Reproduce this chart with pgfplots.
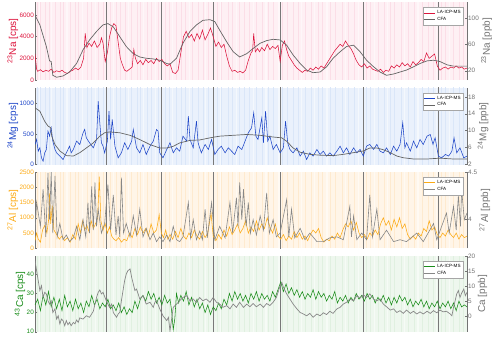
\documentclass[border=0pt]{standalone}
\usepackage{fontspec}
\setmainfont{Liberation Sans}
\usepackage{pgfplots}
\usepackage{pgfplotstable}
\pgfplotsset{compat=1.18}

\definecolor{naC}{RGB}{220,20,60}
\definecolor{naBg}{RGB}{254,240,244}
\definecolor{naSt}{RGB}{251,222,231}
\definecolor{mgC}{RGB}{30,70,200}
\definecolor{mgBg}{RGB}{234,241,252}
\definecolor{mgSt}{RGB}{218,230,248}
\definecolor{alC}{RGB}{252,170,20}
\definecolor{alBg}{RGB}{255,245,232}
\definecolor{alSt}{RGB}{254,234,207}
\definecolor{caC}{RGB}{25,140,25}
\definecolor{caBg}{RGB}{238,247,238}
\definecolor{caSt}{RGB}{224,240,224}
\definecolor{cfaC}{RGB}{100,100,100}
\definecolor{cfaL}{RGB}{135,135,135}
\definecolor{axC}{RGB}{115,115,115}
\definecolor{vlC}{RGB}{120,120,120}

% positions of the pale raw-signal streaks behind the traces (top of each panel)
\pgfplotstableread{
x na mg al ca
83.204 7300 1300 2600 50
83.211 7300 1300 2600 50
83.219 7300 1300 2600 50
83.226 7300 1300 2600 50
83.238 7300 1300 2600 50
83.247 7300 1300 2600 50
83.253 7300 1300 2600 50
83.266 7300 1300 2600 50
83.274 7300 1300 2600 50
83.281 7300 1300 2600 50
83.297 7300 1300 2600 50
83.305 7300 1300 2600 50
83.318 7300 1300 2600 50
83.327 7300 1300 2600 50
83.339 7300 1300 2600 50
83.351 7300 1300 2600 50
83.358 7300 1300 2600 50
83.367 7300 1300 2600 50
83.378 7300 1300 2600 50
83.389 7300 1300 2600 50
83.396 7300 1300 2600 50
83.409 7300 1300 2600 50
83.416 7300 1300 2600 50
83.428 7300 1300 2600 50
83.441 7300 1300 2600 50
83.449 7300 1300 2600 50
83.462 7300 1300 2600 50
83.471 7300 1300 2600 50
83.478 7300 1300 2600 50
83.492 7300 1300 2600 50
83.503 7300 1300 2600 50
83.512 7300 1300 2600 50
83.521 7300 1300 2600 50
83.537 7300 1300 2600 50
83.546 7300 1300 2600 50
83.558 7300 1300 2600 50
83.566 7300 1300 2600 50
83.579 7300 1300 2600 50
83.588 7300 1300 2600 50
83.597 7300 1300 2600 50
83.611 7300 1300 2600 50
83.622 7300 1300 2600 50
83.633 7300 1300 2600 50
83.641 7300 1300 2600 50
83.659 7300 1300 2600 50
83.668 7300 1300 2600 50
83.679 7300 1300 2600 50
83.688 7300 1300 2600 50
83.701 7300 1300 2600 50
83.712 7300 1300 2600 50
83.724 7300 1300 2600 50
83.733 7300 1300 2600 50
83.748 7300 1300 2600 50
83.757 7300 1300 2600 50
83.769 7300 1300 2600 50
83.781 7300 1300 2600 50
83.792 7300 1300 2600 50
83.813 7300 1300 2600 50
83.822 7300 1300 2600 50
83.836 7300 1300 2600 50
83.847 7300 1300 2600 50
83.858 7300 1300 2600 50
83.866 7300 1300 2600 50
83.879 7300 1300 2600 50
83.891 7300 1300 2600 50
83.902 7300 1300 2600 50
83.917 7300 1300 2600 50
83.928 7300 1300 2600 50
83.937 7300 1300 2600 50
83.952 7300 1300 2600 50
83.961 7300 1300 2600 50
83.974 7300 1300 2600 50
83.986 7300 1300 2600 50
83.994 7300 1300 2600 50
}\stripes
\pgfplotstableread{
x na mg al ca
83.208 7300 1300 2600 50
83.231 7300 1300 2600 50
83.259 7300 1300 2600 50
83.288 7300 1300 2600 50
83.312 7300 1300 2600 50
83.345 7300 1300 2600 50
83.373 7300 1300 2600 50
83.401 7300 1300 2600 50
83.423 7300 1300 2600 50
83.455 7300 1300 2600 50
83.486 7300 1300 2600 50
83.516 7300 1300 2600 50
83.543 7300 1300 2600 50
83.573 7300 1300 2600 50
83.604 7300 1300 2600 50
83.628 7300 1300 2600 50
83.652 7300 1300 2600 50
83.694 7300 1300 2600 50
83.718 7300 1300 2600 50
83.741 7300 1300 2600 50
83.775 7300 1300 2600 50
83.799 7300 1300 2600 50
83.829 7300 1300 2600 50
83.853 7300 1300 2600 50
83.884 7300 1300 2600 50
83.909 7300 1300 2600 50
83.944 7300 1300 2600 50
83.968 7300 1300 2600 50
}\gaps

\pgfplotsset{
  panel/.style={width=432bp, scale only axis, xmin=83.2, xmax=84, clip=true,
    /pgf/number format/assume math mode=true, /pgf/number format/1000 sep={},
    scaled ticks=false, tick align=inside, major tick length=2bp,
    yticklabel style={font=\fontsize{6.4}{7}\selectfont, inner sep=1pt},
    xticklabel style={font=\fontsize{7.6}{8}\selectfont, color=black!75},
    label style={font=\fontsize{7.8}{8}\selectfont},
    ylabel near ticks, tick style={draw=axC, line width=0.4pt},
    axis line style={draw=axC, line width=0.4pt}},
  leftax/.style={panel, axis y line*=left, axis x line=none, ylabel shift=-3bp},
  rightax/.style={panel, axis y line*=right, axis x line=none,
    yticklabel style={color=axC}, ylabel style={color=axC}, ylabel shift=-2bp,
    legend style={at={(rel axis cs:0.992,0.93)}, anchor=north east,
      font=\fontsize{4.6}{5}\selectfont, draw=black!35, fill=white,
      inner sep=0.8pt, row sep=-1.8pt, cells={anchor=west}},
    legend image code/.code={\draw[##1] (0bp,0bp) -- (11bp,0bp);}},
  laline/.style={line width=0.55pt},
  cfaline/.style={line width=0.7pt, color=cfaC},
  vline/.style={color=vlC, line width=0.5pt, unbounded coords=jump, forget plot},
  streak/.style={ycomb, no marks, forget plot, line width=0.9bp},
  gap/.style={ycomb, no marks, forget plot, line width=1.3bp, draw=white, opacity=0.5},
}

\begin{document}
\begin{tikzpicture}
\path[use as bounding box] (-35bp,2bp) rectangle (465bp,-356bp);

% ---------------- Na ----------------
\begin{axis}[leftax, at={(0,0)}, anchor=north west, height=78bp,
  ymin=0, ymax=7200, ytick={0,2000,4000,6000},
  ylabel={\textsuperscript{23}Na [cps]}, ylabel style={color=naC}, yticklabel style={color=naC},
  axis background/.style={fill=naBg}]
\addplot[streak, draw=naSt] table[x=x, y=na] {\stripes};
\addplot[gap] table[x=x, y=na] {\gaps};
\addplot[vline] coordinates {(83.332,-100) (83.332,7300) (83.332,nan) (83.433,-100) (83.433,7300) (83.433,nan)
  (83.530,-100) (83.530,7300) (83.530,nan) (83.655,-100) (83.655,7300) (83.655,nan)
  (83.807,-100) (83.807,7300) (83.807,nan) (83.946,-100) (83.946,7300)};
\addplot[laline, naC] coordinates {(83.200,2400)(83.203,1000)(83.205,800)(83.210,950)(83.215,750)(83.220,900)(83.225,800)(83.230,1000)(83.235,700)(83.240,850)(83.245,750)(83.250,900)(83.255,700)(83.260,600)(83.265,800)(83.270,900)(83.275,1100)(83.280,950)(83.285,1200)(83.290,2000)(83.293,4300)(83.296,3000)(83.300,3400)(83.305,3100)(83.310,3600)(83.315,3000)(83.320,3300)(83.323,3900)(83.326,3400)(83.330,1700)(83.334,2500)(83.338,4000)(83.342,4800)(83.346,5200)(83.350,5000)(83.354,3500)(83.358,2000)(83.362,1400)(83.366,900)(83.370,800)(83.375,1000)(83.380,1200)(83.383,2800)(83.386,2000)(83.390,1500)(83.395,1800)(83.400,1400)(83.405,1900)(83.410,1600)(83.415,1800)(83.420,1500)(83.425,2000)(83.430,1700)(83.435,1900)(83.440,1500)(83.445,1300)(83.450,1500)(83.455,700)(83.460,600)(83.465,900)(83.470,2500)(83.475,4000)(83.480,4500)(83.485,3900)(83.490,4200)(83.495,3600)(83.500,4300)(83.505,3800)(83.510,4600)(83.515,3700)(83.520,4200)(83.525,4800)(83.530,4000)(83.535,3100)(83.540,3500)(83.545,3000)(83.550,3300)(83.555,2200)(83.560,1300)(83.565,800)(83.570,900)(83.575,700)(83.580,800)(83.585,650)(83.590,900)(83.595,1800)(83.600,2500)(83.603,2700)(83.605,4300)(83.608,2600)(83.612,2900)(83.616,2600)(83.620,3000)(83.625,2700)(83.630,3300)(83.635,2800)(83.640,3100)(83.645,2900)(83.650,3200)(83.654,1700)(83.658,3200)(83.662,3600)(83.666,2800)(83.670,2200)(83.675,1800)(83.680,1400)(83.685,1100)(83.690,900)(83.695,700)(83.700,900)(83.705,800)(83.710,1100)(83.715,900)(83.720,1200)(83.725,1000)(83.730,1300)(83.735,1100)(83.740,1500)(83.745,1900)(83.750,2300)(83.755,2700)(83.760,3000)(83.765,3300)(83.770,3100)(83.775,3600)(83.780,3200)(83.785,2900)(83.790,2400)(83.795,1800)(83.800,1400)(83.805,1200)(83.810,1500)(83.815,1100)(83.820,1300)(83.825,1000)(83.830,900)(83.835,800)(83.840,1000)(83.845,700)(83.850,900)(83.855,800)(83.860,1300)(83.865,1100)(83.870,1400)(83.875,1200)(83.880,1600)(83.885,1300)(83.890,1500)(83.895,1200)(83.900,1700)(83.905,1400)(83.910,1600)(83.915,1900)(83.920,1700)(83.925,2500)(83.930,2000)(83.935,2200)(83.940,2400)(83.945,1300)(83.950,900)(83.955,1100)(83.960,1200)(83.965,1000)(83.970,1200)(83.975,1100)(83.980,1300)(83.985,1100)(83.990,1200)(83.995,1000)(84.000,1100)};
\end{axis}
\begin{axis}[rightax, at={(0,0)}, anchor=north west, height=78bp,
  ymin=5.8, ymax=125, ytick={20,60,100}, ylabel={\textsuperscript{23}Na [ppb]}]
\addlegendimage{laline, naC}\addlegendentry{LA-ICP-MS}
\addplot[cfaline] coordinates {(83.200,105)(83.209,90)(83.221,57)(83.227,35)(83.230,34)(83.233,13)(83.240,10)(83.252,12)(83.264,18)(83.277,31)(83.289,52)(83.301,67)(83.314,80)(83.326,90)(83.335,92)(83.345,87)(83.357,72)(83.369,57)(83.382,46)(83.394,41)(83.406,39)(83.419,38)(83.431,36)(83.444,31)(83.450,30)(83.462,39)(83.474,62)(83.487,80)(83.499,90)(83.511,97)(83.524,98)(83.533,95)(83.542,82)(83.555,64)(83.567,49)(83.579,41)(83.592,46)(83.604,54)(83.617,62)(83.629,66)(83.641,68)(83.654,67)(83.666,59)(83.678,44)(83.691,31)(83.703,21)(83.715,17)(83.728,18)(83.740,26)(83.752,39)(83.765,49)(83.777,57)(83.790,59)(83.802,49)(83.814,36)(83.827,26)(83.839,18)(83.851,13)(83.864,15)(83.876,18)(83.888,21)(83.901,26)(83.913,31)(83.926,35)(83.938,36)(83.950,34)(83.963,29)(83.975,27)(84.000,27)};
\addlegendentry{CFA}
\end{axis}

% ---------------- Mg ----------------
\begin{axis}[leftax, at={(0,-85.5bp)}, anchor=north west, height=77bp,
  ymin=0, ymax=1260, ytick={0,500,1000},
  ylabel={\textsuperscript{24}Mg [cps]}, ylabel style={color=mgC}, yticklabel style={color=mgC},
  axis background/.style={fill=mgBg}]
\addplot[streak, draw=mgSt] table[x=x, y=mg] {\stripes};
\addplot[gap] table[x=x, y=mg] {\gaps};
\addplot[vline] coordinates {(83.332,-10) (83.332,1300) (83.332,nan) (83.433,-10) (83.433,1300) (83.433,nan)
  (83.530,-10) (83.530,1300) (83.530,nan) (83.655,-10) (83.655,1300) (83.655,nan)
  (83.807,-10) (83.807,1300) (83.807,nan) (83.946,-10) (83.946,1300)};
\addplot[laline, mgC] coordinates {(83.200,328)(83.203,410)(83.206,218)(83.209,273)(83.212,109)(83.215,55)(83.218,191)(83.221,246)(83.224,546)(83.227,464)(83.230,600)(83.233,382)(83.237,246)(83.240,191)(83.246,137)(83.252,82)(83.258,191)(83.264,300)(83.267,191)(83.271,246)(83.277,382)(83.283,328)(83.289,519)(83.292,573)(83.295,437)(83.301,355)(83.308,273)(83.314,410)(83.317,1037)(83.320,683)(83.323,355)(83.326,300)(83.329,191)(83.334,382)(83.337,874)(83.340,410)(83.343,737)(83.348,300)(83.354,109)(83.360,191)(83.366,355)(83.372,246)(83.379,382)(83.382,573)(83.388,273)(83.394,191)(83.400,328)(83.406,164)(83.413,300)(83.419,382)(83.425,573)(83.428,546)(83.431,191)(83.437,109)(83.444,246)(83.450,355)(83.456,191)(83.462,273)(83.468,218)(83.474,464)(83.481,382)(83.484,792)(83.487,410)(83.493,273)(83.499,710)(83.502,355)(83.508,191)(83.515,328)(83.521,246)(83.527,410)(83.533,164)(83.539,246)(83.545,300)(83.552,191)(83.558,273)(83.564,218)(83.570,164)(83.576,300)(83.583,246)(83.589,382)(83.595,519)(83.601,600)(83.605,846)(83.609,464)(83.613,410)(83.620,764)(83.623,355)(83.627,874)(83.631,382)(83.635,464)(83.641,246)(83.647,328)(83.654,191)(83.660,273)(83.664,710)(83.668,355)(83.672,246)(83.678,191)(83.685,273)(83.691,137)(83.697,218)(83.703,82)(83.709,191)(83.715,137)(83.722,246)(83.728,164)(83.734,218)(83.740,137)(83.746,191)(83.752,137)(83.759,218)(83.765,300)(83.771,191)(83.777,273)(83.783,164)(83.790,273)(83.796,191)(83.802,246)(83.808,137)(83.814,300)(83.820,328)(83.827,246)(83.833,328)(83.839,218)(83.845,191)(83.851,273)(83.858,164)(83.864,300)(83.870,218)(83.876,328)(83.881,683)(83.885,273)(83.888,355)(83.895,218)(83.901,382)(83.907,273)(83.913,410)(83.919,328)(83.926,464)(83.932,491)(83.937,328)(83.941,437)(83.947,137)(83.953,109)(83.960,164)(83.966,137)(83.972,218)(83.976,437)(83.981,191)(83.987,273)(83.994,109)(84.000,137)};
\end{axis}
\begin{axis}[rightax, at={(0,-85.5bp)}, anchor=north west, height=77bp,
  ymin=2, ymax=20.2, ytick={2,6,10,14,18}, ylabel={\textsuperscript{24}Mg [ppb]}]
\addlegendimage{laline, mgC}\addlegendentry{LA-ICP-MS}
\addplot[cfaline] coordinates {(83.200,15.4)(83.209,14.6)(83.218,12.2)(83.224,11.1)(83.229,10.7)(83.231,8.7)(83.237,6.7)(83.246,5.2)(83.258,4.1)(83.271,4.0)(83.283,4.8)(83.295,5.9)(83.308,7.1)(83.320,8.7)(83.329,9.5)(83.338,9.7)(83.357,9.5)(83.376,8.9)(83.394,7.9)(83.413,6.7)(83.431,5.9)(83.444,5.9)(83.456,6.3)(83.468,7.1)(83.487,7.7)(83.505,7.8)(83.524,8.3)(83.542,8.7)(83.567,8.9)(83.592,9.1)(83.617,8.9)(83.641,8.5)(83.657,8.3)(83.666,7.5)(83.678,5.9)(83.691,4.9)(83.709,4.4)(83.728,4.2)(83.752,4.1)(83.771,4.4)(83.790,4.8)(83.808,5.2)(83.820,5.9)(83.833,5.9)(83.845,5.5)(83.858,4.8)(83.870,4.0)(83.882,3.6)(83.901,3.3)(83.926,3.3)(83.950,3.5)(83.975,3.3)(84.000,3.3)};
\addlegendentry{CFA}
\end{axis}

% ---------------- Al ----------------
\begin{axis}[leftax, at={(0,-170bp)}, anchor=north west, height=76.3bp,
  ymin=0, ymax=2500, ytick={0,500,1000,1500,2000,2500},
  ylabel={\textsuperscript{27}Al [cps]}, ylabel style={color=alC}, yticklabel style={color=alC},
  axis background/.style={fill=alBg}]
\addplot[streak, draw=alSt] table[x=x, y=al] {\stripes};
\addplot[gap] table[x=x, y=al] {\gaps};
\addplot[vline] coordinates {(83.332,-10) (83.332,2600) (83.332,nan) (83.433,-10) (83.433,2600) (83.433,nan)
  (83.530,-10) (83.530,2600) (83.530,nan) (83.655,-10) (83.655,2600) (83.655,nan)
  (83.807,-10) (83.807,2600) (83.807,nan) (83.946,-10) (83.946,2600)};
\addplot[laline, alC] coordinates {(83.200,250)(83.203,500)(83.206,300)(83.210,200)(83.214,600)(83.218,750)(83.222,500)(83.225,900)(83.227,1800)(83.229,800)(83.232,1400)(83.235,600)(83.240,450)(83.245,300)(83.250,400)(83.255,250)(83.260,350)(83.265,200)(83.270,450)(83.275,300)(83.280,800)(83.284,500)(83.288,900)(83.292,600)(83.296,750)(83.300,550)(83.304,900)(83.308,650)(83.312,800)(83.316,1000)(83.319,2350)(83.322,900)(83.326,600)(83.330,800)(83.334,500)(83.338,700)(83.342,400)(83.346,300)(83.350,250)(83.355,350)(83.360,200)(83.365,300)(83.370,250)(83.375,500)(83.380,350)(83.385,650)(83.390,450)(83.395,700)(83.400,500)(83.405,650)(83.410,400)(83.415,800)(83.420,500)(83.425,600)(83.430,1100)(83.434,500)(83.438,350)(83.442,600)(83.446,300)(83.450,450)(83.455,300)(83.460,550)(83.465,350)(83.470,650)(83.475,400)(83.480,300)(83.485,500)(83.490,350)(83.495,600)(83.500,400)(83.505,300)(83.510,550)(83.515,350)(83.520,500)(83.526,1150)(83.530,400)(83.535,250)(83.540,450)(83.545,300)(83.550,600)(83.555,400)(83.560,700)(83.565,450)(83.570,600)(83.575,800)(83.580,500)(83.585,650)(83.590,900)(83.595,500)(83.600,700)(83.605,550)(83.610,900)(83.615,600)(83.620,800)(83.625,650)(83.630,1000)(83.635,700)(83.640,500)(83.645,800)(83.650,400)(83.655,300)(83.660,450)(83.665,250)(83.670,400)(83.675,300)(83.680,550)(83.685,350)(83.690,500)(83.695,300)(83.700,400)(83.705,250)(83.710,450)(83.715,600)(83.720,500)(83.725,650)(83.730,350)(83.735,200)(83.740,300)(83.745,250)(83.750,400)(83.755,300)(83.760,500)(83.765,350)(83.770,600)(83.775,800)(83.780,700)(83.785,900)(83.790,600)(83.795,850)(83.800,500)(83.805,350)(83.810,450)(83.815,300)(83.820,500)(83.825,400)(83.830,600)(83.835,450)(83.840,800)(83.845,1000)(83.850,750)(83.855,900)(83.860,600)(83.865,950)(83.870,700)(83.875,1000)(83.880,650)(83.885,800)(83.890,450)(83.895,300)(83.900,400)(83.905,300)(83.910,500)(83.915,400)(83.920,650)(83.925,550)(83.930,900)(83.935,600)(83.940,700)(83.945,450)(83.950,350)(83.955,500)(83.960,400)(83.965,600)(83.970,450)(83.975,350)(83.980,500)(83.985,300)(83.990,450)(83.995,350)(84.000,400)};
\end{axis}
\begin{axis}[rightax, at={(0,-170bp)}, anchor=north west, height=76.3bp,
  ymin=3.7, ymax=4.5, ytick={4,4.5}, ylabel={\textsuperscript{27}Al [ppb]}]
\addlegendimage{laline, alC}\addlegendentry{LA-ICP-MS}
\addplot[cfaline, color=cfaL, line width=0.6pt] coordinates {(83.200,3.86)(83.203,4.18)(83.210,3.93)(83.215,4.32)(83.220,3.82)(83.224,4.49)(83.227,4.00)(83.230,4.50)(83.233,3.86)(83.237,4.46)(83.241,3.82)(83.246,3.96)(83.252,3.79)(83.258,3.84)(83.264,3.77)(83.271,3.81)(83.277,3.93)(83.283,3.79)(83.289,4.00)(83.294,3.82)(83.298,4.18)(83.301,3.86)(83.305,4.35)(83.308,3.89)(83.311,4.39)(83.314,3.93)(83.317,4.11)(83.323,3.86)(83.329,3.96)(83.335,4.37)(83.340,3.89)(83.345,4.26)(83.350,3.84)(83.354,4.04)(83.357,3.82)(83.360,4.44)(83.364,3.86)(83.369,3.96)(83.376,3.82)(83.382,4.04)(83.388,3.84)(83.394,4.11)(83.400,3.82)(83.406,3.91)(83.413,3.79)(83.419,3.86)(83.425,3.77)(83.431,3.82)(83.437,3.77)(83.444,3.84)(83.450,3.77)(83.456,3.93)(83.462,3.79)(83.468,3.77)(83.474,3.82)(83.484,4.18)(83.488,3.81)(83.493,4.00)(83.499,3.79)(83.505,3.88)(83.510,3.79)(83.515,4.11)(83.519,3.81)(83.527,4.18)(83.533,3.79)(83.542,3.93)(83.552,3.81)(83.561,4.18)(83.566,3.86)(83.573,4.23)(83.576,3.93)(83.579,4.39)(83.583,4.00)(83.586,4.32)(83.591,3.93)(83.595,4.18)(83.599,3.86)(83.604,4.00)(83.610,3.84)(83.617,4.04)(83.623,3.89)(83.629,4.28)(83.634,3.86)(83.641,4.00)(83.647,3.82)(83.654,3.86)(83.666,4.21)(83.670,3.82)(83.675,4.11)(83.681,3.81)(83.691,3.91)(83.700,3.79)(83.709,3.86)(83.722,3.77)(83.734,3.77)(83.746,3.81)(83.759,3.82)(83.771,3.79)(83.783,4.14)(83.786,3.82)(83.790,4.04)(83.796,3.79)(83.805,3.86)(83.814,3.79)(83.820,4.26)(83.825,3.82)(83.833,4.11)(83.839,3.79)(83.851,3.89)(83.864,3.77)(83.876,3.79)(83.888,3.77)(83.907,3.86)(83.919,3.77)(83.938,3.96)(83.944,3.79)(83.953,3.93)(83.962,4.07)(83.967,3.86)(83.975,4.14)(83.980,3.89)(83.984,4.25)(83.988,3.93)(83.990,4.32)(83.995,4.00)(84.000,4.07)};
\addlegendentry{CFA}
\end{axis}

% ---------------- Ca ----------------
\begin{axis}[leftax, at={(0,-254bp)}, anchor=north west, height=75.7bp,
  axis x line*=bottom, xtick={83.2,83.3,83.4,83.5,83.6,83.7,83.8,83.9,84},
  xlabel={Depth [m]}, xlabel style={color=black!75, yshift=2bp},
  ymin=10, ymax=49.6, ytick={10,20,30,40},
  ylabel={\textsuperscript{43}Ca [cps]}, ylabel style={color=caC}, yticklabel style={color=caC},
  axis background/.style={fill=caBg}]
\addplot[streak, draw=caSt] table[x=x, y=ca] {\stripes};
\addplot[gap] table[x=x, y=ca] {\gaps};
\addplot[vline] coordinates {(83.332,9) (83.332,50) (83.332,nan) (83.433,9) (83.433,50) (83.433,nan)
  (83.530,9) (83.530,50) (83.530,nan) (83.655,9) (83.655,50) (83.655,nan)
  (83.807,9) (83.807,50) (83.807,nan) (83.946,9) (83.946,50)};
\addplot[laline, caC] coordinates {(83.200,24)(83.205,27)(83.210,21)(83.215,29)(83.220,24)(83.225,31)(83.230,23)(83.235,28)(83.240,22)(83.245,27)(83.250,21)(83.255,29)(83.260,23)(83.265,26)(83.270,21)(83.275,27)(83.280,22)(83.285,25)(83.290,20)(83.295,26)(83.300,23)(83.305,29)(83.310,24)(83.315,27)(83.320,22)(83.325,25)(83.330,23)(83.335,27)(83.340,22)(83.345,24)(83.350,21)(83.355,25)(83.360,20)(83.365,23)(83.370,19)(83.375,22)(83.380,20)(83.385,26)(83.390,22)(83.395,27)(83.400,29)(83.405,26)(83.410,31)(83.415,27)(83.420,30)(83.425,25)(83.430,28)(83.435,24)(83.440,29)(83.445,25)(83.450,27)(83.453,21)(83.456,11)(83.459,17)(83.462,30)(83.466,25)(83.470,29)(83.475,26)(83.480,31)(83.485,24)(83.490,28)(83.495,23)(83.500,27)(83.505,22)(83.510,25)(83.515,20)(83.520,24)(83.525,19)(83.530,23)(83.535,21)(83.540,25)(83.545,22)(83.550,27)(83.555,24)(83.560,30)(83.565,26)(83.570,31)(83.575,27)(83.580,30)(83.585,26)(83.590,29)(83.595,25)(83.600,30)(83.605,27)(83.610,31)(83.615,26)(83.620,30)(83.625,27)(83.630,29)(83.635,26)(83.640,31)(83.645,28)(83.650,32)(83.655,36)(83.660,31)(83.665,35)(83.670,30)(83.675,33)(83.680,29)(83.685,32)(83.690,28)(83.695,31)(83.700,27)(83.705,30)(83.710,28)(83.715,32)(83.720,27)(83.725,31)(83.730,28)(83.735,30)(83.740,26)(83.745,29)(83.750,27)(83.755,31)(83.760,25)(83.765,28)(83.770,26)(83.775,29)(83.780,25)(83.785,28)(83.790,26)(83.795,30)(83.800,27)(83.805,29)(83.810,26)(83.815,30)(83.820,27)(83.825,29)(83.830,25)(83.835,28)(83.840,26)(83.845,29)(83.850,25)(83.855,28)(83.860,24)(83.865,28)(83.870,25)(83.875,29)(83.880,26)(83.885,28)(83.890,24)(83.895,27)(83.900,23)(83.905,26)(83.910,24)(83.915,27)(83.920,23)(83.925,26)(83.930,22)(83.935,25)(83.940,23)(83.945,26)(83.950,22)(83.955,25)(83.960,23)(83.965,26)(83.970,22)(83.975,25)(83.980,21)(83.985,26)(83.990,23)(83.995,24)(84.000,23)};
\end{axis}
\begin{axis}[rightax, at={(0,-254bp)}, anchor=north west, height=75.7bp,
  ymin=-5, ymax=20.2, ytick={0,5,10,15,20}, ylabel={Ca [ppb]}]
\addlegendimage{laline, caC}\addlegendentry{LA-ICP-MS}
\addplot[cfaline, color=cfaL] coordinates {(83.200,18.7)(83.203,15.3)(83.206,12.0)(83.209,8.7)(83.212,10.3)(83.215,6.4)(83.218,8.1)(83.221,7.6)(83.224,5.3)(83.227,4.2)(83.230,5.3)(83.233,1.4)(83.237,2.6)(83.240,-0.8)(83.243,0.3)(83.246,-2.4)(83.249,-0.8)(83.252,-1.3)(83.255,-3.0)(83.258,-1.3)(83.261,-2.7)(83.264,-1.9)(83.267,-3.0)(83.271,-1.9)(83.274,-2.4)(83.277,-1.1)(83.280,-1.9)(83.283,-0.4)(83.289,-0.8)(83.295,0.3)(83.301,-0.2)(83.308,1.8)(83.311,4.2)(83.314,6.4)(83.317,8.1)(83.320,8.9)(83.323,7.6)(83.326,8.1)(83.332,5.3)(83.338,3.1)(83.342,4.2)(83.345,1.4)(83.351,-0.2)(83.354,0.9)(83.357,1.4)(83.360,5.3)(83.363,8.7)(83.366,12.0)(83.369,14.2)(83.372,15.3)(83.376,15.9)(83.379,13.1)(83.382,10.9)(83.385,8.7)(83.388,9.2)(83.394,5.9)(83.400,7.0)(83.406,4.2)(83.413,4.8)(83.419,3.1)(83.422,4.8)(83.425,5.3)(83.431,2.6)(83.437,0.3)(83.444,-1.3)(83.447,-0.2)(83.450,-4.7)(83.453,-0.8)(83.456,3.1)(83.462,4.2)(83.468,5.3)(83.474,6.4)(83.481,7.0)(83.487,5.3)(83.493,5.9)(83.499,4.8)(83.505,6.4)(83.511,5.3)(83.517,5.9)(83.524,4.8)(83.530,6.4)(83.536,4.8)(83.542,4.2)(83.548,3.1)(83.555,3.7)(83.561,2.6)(83.567,4.2)(83.573,3.1)(83.579,4.8)(83.586,3.1)(83.592,4.2)(83.598,3.3)(83.604,4.4)(83.610,3.3)(83.617,4.2)(83.623,3.1)(83.629,4.4)(83.635,3.7)(83.641,4.8)(83.647,6.4)(83.654,10.3)(83.657,11.4)(83.660,9.8)(83.666,7.6)(83.672,5.9)(83.678,4.2)(83.685,2.6)(83.691,1.4)(83.697,0.9)(83.703,0.3)(83.709,1.1)(83.715,-0.2)(83.722,0.9)(83.728,0.3)(83.734,1.3)(83.740,0.7)(83.746,1.8)(83.752,1.1)(83.759,2.6)(83.765,3.1)(83.771,4.2)(83.777,4.8)(83.783,5.9)(83.790,5.3)(83.796,7.0)(83.802,6.2)(83.808,7.3)(83.814,6.4)(83.820,7.6)(83.827,5.9)(83.833,5.3)(83.839,5.9)(83.845,4.2)(83.851,3.3)(83.858,2.2)(83.864,2.6)(83.870,1.4)(83.876,2.0)(83.882,1.1)(83.888,2.2)(83.895,1.1)(83.901,1.8)(83.907,0.9)(83.913,1.6)(83.919,0.9)(83.926,1.8)(83.932,1.1)(83.938,2.0)(83.944,1.3)(83.950,2.2)(83.956,1.6)(83.962,1.8)(83.969,0.9)(83.972,0.3)(83.975,3.1)(83.978,5.3)(83.981,7.6)(83.984,8.7)(83.987,6.4)(83.990,7.8)(83.994,9.2)(83.997,7.0)(84.000,8.1)};
\addlegendentry{CFA}
\end{axis}
\end{tikzpicture}
\end{document}
